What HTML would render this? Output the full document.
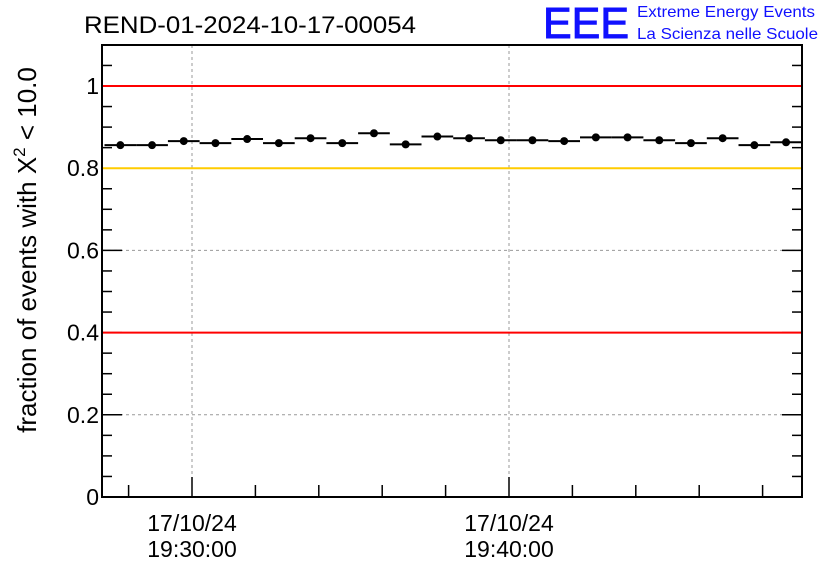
<!DOCTYPE html>
<html><head><meta charset="utf-8"><style>body{margin:0;background:#fff}svg{display:block;font-family:"Liberation Sans",sans-serif}</style></head>
<body>
<svg id="c" width="836" height="572">
<text x="84" y="33" font-size="24" textLength="332" lengthAdjust="spacingAndGlyphs">REND-01-2024-10-17-00054</text>
<text x="543" y="38" font-size="44" fill="#1010ff" stroke="#1010ff" stroke-width="1" textLength="86" lengthAdjust="spacingAndGlyphs">EEE</text>
<text x="637" y="17" font-size="16" fill="#1010ff" textLength="178" lengthAdjust="spacingAndGlyphs">Extreme Energy Events</text>
<text x="637" y="39" font-size="16" fill="#1010ff" textLength="181" lengthAdjust="spacingAndGlyphs">La Scienza nelle Scuole</text>
<text transform="translate(36,250) rotate(-90)" text-anchor="middle" font-size="26">fraction of events with Χ<tspan dy="-11" font-size="17">2</tspan><tspan dy="11"> &lt; 10.0</tspan></text>
<g id="g"></g>
</svg>
<script>
const values=[0.856,0.856,0.866,0.861,0.871,0.861,0.873,0.861,0.885,0.858,0.877,0.873,0.868,0.868,0.866,0.875,0.875,0.868,0.861,0.873,0.856,0.863];
const yTicks=[0,0.2,0.4,0.6,0.8,1];
const yTickLabels=["0","0.2","0.4","0.6","0.8","1"];
const xMajor=[0,10];
const xMajorDate=["17/10/24","17/10/24"];
const xMajorTime=["19:30:00","19:40:00"];
const firstBinCenter=-2.26;
const L=102,R=802,T=45,B=497;
const X=m=>192+m*31.7;
const Y=v=>B-v*411;
const NS="http://www.w3.org/2000/svg";
const g=document.getElementById('g');
function el(t,a,p){const e=document.createElementNS(NS,t);for(const k in a)e.setAttribute(k,a[k]);(p||g).appendChild(e);return e;}
// grid
[0.2,0.6].forEach(v=>{const e=el('line',{x1:L,x2:R,y1:Y(v),y2:Y(v),stroke:'#999','stroke-dasharray':'3,3'});

});
xMajor.forEach(m=>{const e=el('line',{x1:X(m),x2:X(m),y1:T,y2:B,stroke:'#999','stroke-dasharray':'3,3'});

});
// y ticks
for(let k=0;k<=22;k++){const v=k*0.05;const len=(k%4==0)?20:10;
el('line',{x1:L,x2:L+len,y1:Y(v),y2:Y(v),stroke:'#000','stroke-width':1.5});
el('line',{x1:R,x2:R-len,y1:Y(v),y2:Y(v),stroke:'#000','stroke-width':1.5});}
// reference lines
[[1,'#ff0000'],[0.4,'#ff0000'],[0.8,'#ffcc00']].forEach(r=>{const e=el('line',{x1:L,x2:R,y1:Y(r[0]),y2:Y(r[0]),stroke:r[1],'stroke-width':2});

});
// axes frame
const f=el('rect',{x:L,y:T,width:R-L,height:B-T,fill:'none',stroke:'#000','stroke-width':2});


yTicks.forEach((v,i)=>{const t=el('text',{x:99,y:Y(v)+8,'text-anchor':'end','font-size':23});t.textContent=yTickLabels[i];

});
// x ticks
for(let m=-2;m<=18;m+=2){const len=(m%10==0)?20:12;
el('line',{x1:X(m),x2:X(m),y1:B,y2:B-len,stroke:'#000','stroke-width':1.5});}
xMajor.forEach((m,i)=>{let t=el('text',{x:X(m),y:531,'text-anchor':'middle','font-size':23});t.textContent=xMajorDate[i];


t=el('text',{x:X(m),y:557,'text-anchor':'middle','font-size':23});t.textContent=xMajorTime[i];

});
// points
values.forEach((v,i)=>{const c=firstBinCenter+i;
const h=el('line',{x1:X(c-0.5),x2:X(c+0.5),y1:Y(v),y2:Y(v),stroke:'#000','stroke-width':2});


const p=el('circle',{cx:X(c),cy:Y(v),r:4,fill:'#000'});

});
</script>
</body></html>
